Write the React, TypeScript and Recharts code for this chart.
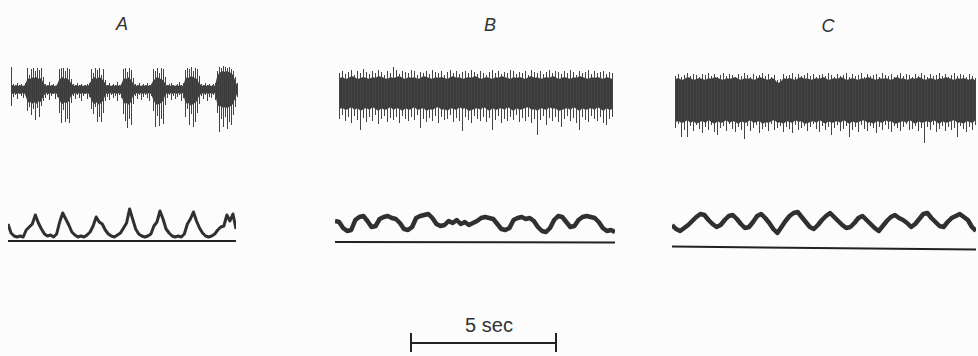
import React from "react";
import { ComposedChart, Bar, Area, Line, XAxis, YAxis, ReferenceLine } from "recharts";

// Panel A – raw nerve activity (px-like units above / below trace centre)
const aSpikeHi = [
  22,
  5, 4, 6, 4, 5, 3, 6,
  21, 14, 20, 21, 18, 21, 19, 21, 12,
  5, 4, 7, 4, 5, 3, 5,
  20, 21, 21, 18, 21, 20, 10,
  5, 4, 6, 4, 5, 3, 4, 5, 6,
  20, 16, 21, 19, 21, 14, 20, 9,
  4, 6, 3, 5, 4, 7, 4, 5,
  20, 21, 17, 21, 19, 11,
  5, 4, 6, 3, 5, 4, 6, 4, 5,
  20, 18, 21, 16, 21, 20, 12,
  4, 5, 6, 4, 3, 5, 7, 4, 6,
  19, 21, 20, 22, 18, 21, 20, 13,
  5, 4, 6, 4, 5, 3, 5, 6,
  18, 22, 21, 23, 22, 21, 22, 20, 18, 12,
  6,
];
const aSpikeLo = [
  -17,
  -8, -6, -10, -5, -7, -9, -6,
  -22, -18, -26, -20, -31, -19, -28, -17, -12,
  -9, -6, -11, -7, -5, -10, -8,
  -24, -34, -21, -33, -30, -34, -14,
  -7, -10, -6, -9, -12, -7, -5, -10, -8,
  -20, -25, -18, -33, -28, -33, -24, -12,
  -8, -11, -6, -9, -7, -12, -6, -9,
  -25, -32, -39, -30, -36, -15,
  -7, -10, -6, -11, -8, -6, -9, -12, -7,
  -22, -38, -27, -37, -30, -35, -16,
  -9, -6, -11, -7, -10, -8, -6, -12, -9,
  -28, -20, -36, -25, -38, -33, -24, -15,
  -7, -10, -6, -12, -8, -9, -6, -11,
  -24, -43, -30, -38, -28, -40, -33, -36, -26, -18,
  -8,
];
const aCoreHi = [
  3,
  4, 3, 4, 3, 4, 3, 4,
  9, 11, 10, 12, 11, 12, 10, 11, 7,
  4, 3, 4, 3, 4, 3, 4,
  9, 11, 12, 10, 11, 9, 6,
  4, 3, 4, 3, 4, 3, 4, 3, 4,
  8, 11, 12, 10, 12, 11, 9, 6,
  3, 4, 3, 4, 3, 4, 3, 4,
  9, 11, 10, 12, 9, 6,
  4, 3, 4, 3, 4, 3, 4, 3, 4,
  8, 10, 12, 11, 10, 9, 6,
  3, 4, 3, 4, 3, 4, 3, 4, 3,
  9, 12, 11, 13, 12, 11, 10, 6,
  4, 3, 4, 3, 4, 3, 4, 3,
  12, 16, 17, 18, 17, 18, 17, 16, 14, 9,
  4,
];
const aCoreLo = [
  -4,
  -5, -4, -5, -4, -5, -4, -5,
  -11, -14, -13, -15, -13, -15, -12, -13, -8,
  -5, -4, -5, -4, -5, -4, -5,
  -10, -14, -15, -13, -14, -12, -7,
  -5, -4, -5, -4, -5, -4, -5, -4, -5,
  -10, -14, -15, -13, -16, -14, -12, -7,
  -4, -5, -4, -5, -4, -5, -4, -5,
  -12, -15, -14, -16, -13, -7,
  -5, -4, -5, -4, -5, -4, -5, -4, -5,
  -10, -14, -16, -15, -14, -12, -7,
  -4, -5, -4, -5, -4, -5, -4, -5, -4,
  -12, -15, -14, -17, -15, -14, -12, -7,
  -5, -4, -5, -4, -5, -4, -5, -4,
  -14, -18, -17, -19, -18, -19, -18, -17, -15, -10,
  -5,
];
// Panel A – integrated activity, height above baseline
const aIntegrated = [
  17, 8, 5, 4, 5, 4, 11, 14, 17, 26,
  18, 12, 7, 5, 6, 4, 7, 19, 28, 22,
  16, 9, 6, 4, 5, 4, 6, 9, 15, 24,
  19, 17, 11, 7, 5, 4, 6, 8, 13, 18,
  32, 22, 12, 7, 5, 4, 5, 7, 15, 19,
  30, 22, 12, 8, 5, 4, 5, 4, 7, 17,
  22, 29, 20, 13, 8, 5, 4, 5, 7, 11,
  14, 15, 26, 20, 27, 12,
];

// Panel B
const bSpikeHi = [
  22, 24, 21, 23, 25, 20, 24, 22, 26, 23,
  21, 24, 22, 25, 23, 20, 24, 22, 28, 25,
  21, 24, 23, 22, 25, 24, 20, 23, 22, 24,
  21, 25, 23, 22, 24, 20, 23, 25, 22, 24,
  21, 23, 24, 22, 25, 23, 21, 24, 22, 20,
  23, 25, 22, 24, 21, 23, 22, 25, 24, 21,
  23, 22, 24, 20, 25, 23, 22, 24, 21, 23,
  25, 22, 24, 23, 21, 24, 22, 25, 23, 20,
  24, 22, 23, 25, 21, 24, 22, 23, 24, 21,
  23, 22,
];
const bSpikeLo = [
  -24, -20, -26, -22, -28, -21, -25, -35, -23, -27,
  -22, -26, -20, -29, -24, -21, -27, -23, -25, -22,
  -28, -21, -24, -26, -22, -25, -20, -33, -24, -27,
  -23, -26, -21, -28, -22, -25, -24, -20, -27, -23,
  -26, -36, -22, -25, -28, -21, -24, -26, -22, -27,
  -23, -35, -25, -21, -28, -24, -26, -22, -25, -20,
  -27, -23, -26, -22, -28, -24, -40, -25, -21, -30,
  -23, -26, -22, -27, -32, -24, -21, -26, -23, -28,
  -35, -22, -25, -27, -21, -24, -26, -22, -28, -30,
  -24, -22,
];
const bCoreHi = [
  17, 18, 16, 17, 19, 18, 16, 17, 18, 17,
  16, 18, 17, 19, 18, 17, 16, 18, 17, 18,
  19, 17, 16, 18, 17, 18, 16, 17, 19, 18,
  17, 16, 18, 17, 18, 17, 16, 18, 19, 17,
  18, 16, 17, 18, 17, 19, 18, 16, 17, 18,
  17, 16, 18, 17, 19, 18, 17, 16, 18, 17,
  18, 17, 16, 18, 19, 17, 18, 16, 17, 18,
  17, 19, 18, 16, 17, 18, 17, 16, 18, 17,
  19, 18, 17, 16, 18, 17, 18, 17, 16, 18,
  17, 16,
];
const bCoreLo = [
  -14, -13, -15, -14, -12, -15, -13, -16, -14, -13,
  -15, -12, -14, -16, -13, -15, -14, -12, -15, -13,
  -14, -16, -13, -15, -14, -12, -15, -14, -13, -16,
  -14, -15, -13, -12, -15, -14, -16, -13, -14, -15,
  -12, -14, -13, -16, -15, -14, -13, -15, -12, -14,
  -16, -13, -15, -14, -13, -15, -12, -14, -16, -13,
  -15, -14, -13, -12, -15, -14, -16, -13, -14, -15,
  -12, -14, -13, -16, -15, -14, -13, -15, -12, -14,
  -16, -13, -15, -14, -13, -15, -12, -14, -16, -13,
  -15, -14,
];
const bIntegrated = [
  21, 20, 14, 11, 12, 22, 25, 26, 21, 15,
  16, 23, 25, 26, 24, 23, 19, 13, 12, 15,
  24, 26, 27, 28, 24, 18, 16, 17, 21, 19,
  22, 18, 20, 17, 19, 21, 24, 25, 24, 23,
  18, 13, 12, 14, 22, 24, 25, 23, 24, 21,
  15, 11, 10, 14, 22, 26, 25, 20, 15, 16,
  22, 25, 26, 25, 24, 20, 14, 11, 12, 10,
];

// Panel C
const cSpikeHi = [
  24, 26, 23, 25, 27, 24, 26, 25, 23, 26,
  25, 27, 24, 26, 23, 25, 27, 24, 26, 25,
  23, 26, 24, 27, 25, 23, 26, 24, 25, 27,
  24, 26, 23, 25, 20, 21, 26, 24, 25, 27,
  23, 26, 24, 25, 27, 24, 26, 23, 25, 26,
  24, 27, 25, 23, 26, 24, 25, 27, 23, 26,
  24, 25, 27, 23, 26, 24, 25, 26, 23, 27,
  25, 24, 26, 23, 25, 27, 24, 26, 25, 23,
  26, 24, 27, 25, 23, 26, 24, 25, 27, 24,
  26, 23, 25, 27, 24, 26, 25, 23, 26, 24,
  22,
];
const cSpikeLo = [
  -28, -24, -37, -30, -37, -26, -31, -25, -29, -33,
  -27, -30, -25, -32, -35, -28, -26, -31, -24, -29,
  -32, -27, -30, -39, -26, -31, -28, -25, -33, -29,
  -27, -31, -24, -30, -28, -26, -32, -27, -29, -33,
  -25, -30, -28, -26, -31, -27, -24, -29, -32, -26,
  -30, -27, -35, -28, -25, -31, -29, -26, -37, -30,
  -27, -32, -25, -29, -31, -26, -28, -33, -27, -30,
  -25, -29, -32, -26, -28, -31, -27, -24, -30, -29,
  -26, -31, -28, -43, -27, -30, -25, -32, -29, -26,
  -31, -27, -30, -28, -37, -26, -29, -32, -27, -30,
  -25,
];
const cCoreHi = [
  21, 22, 20, 21, 23, 22, 20, 21, 22, 21,
  20, 22, 21, 23, 22, 21, 20, 22, 21, 22,
  23, 21, 20, 22, 21, 22, 20, 21, 23, 22,
  21, 20, 22, 21, 17, 18, 22, 21, 22, 21,
  20, 22, 23, 21, 22, 20, 21, 22, 21, 23,
  22, 20, 21, 22, 21, 23, 22, 20, 21, 22,
  21, 20, 22, 21, 23, 22, 21, 20, 22, 21,
  22, 21, 20, 22, 23, 21, 22, 20, 21, 22,
  21, 23, 22, 20, 21, 22, 21, 20, 22, 21,
  23, 22, 21, 20, 22, 21, 22, 21, 20, 22,
  19,
];
const cCoreLo = [
  -22, -21, -23, -22, -20, -23, -21, -24, -22, -21,
  -23, -20, -22, -24, -21, -23, -22, -20, -23, -21,
  -22, -24, -21, -23, -22, -20, -23, -22, -21, -24,
  -22, -23, -21, -20, -23, -22, -24, -21, -22, -23,
  -20, -22, -21, -24, -23, -22, -21, -23, -20, -22,
  -24, -21, -23, -22, -21, -23, -20, -22, -24, -21,
  -23, -22, -21, -20, -23, -22, -24, -21, -22, -23,
  -20, -22, -21, -24, -23, -22, -21, -23, -20, -22,
  -24, -21, -23, -22, -21, -23, -20, -22, -24, -21,
  -23, -22, -21, -20, -23, -22, -24, -21, -22, -23,
  -20,
];
const cIntegrated = [
  22, 18, 16, 19, 22, 26, 30, 33, 32, 27,
  23, 20, 22, 27, 31, 32, 28, 23, 19, 20,
  25, 31, 33, 29, 24, 18, 14, 20, 26, 31,
  34, 35, 30, 25, 20, 18, 22, 27, 31, 34,
  30, 26, 22, 19, 20, 24, 29, 31, 27, 23,
  19, 16, 21, 26, 30, 32, 29, 27, 24, 20,
  23, 28, 33, 34, 29, 25, 21, 20, 25, 29,
  31, 33, 30, 27, 20, 16,
];

const panelLabels = ["A", "B", "C"];

// scale bar: 5 s, end ticks reach this far above / below the bar
const scaleSeconds = 5;
const scaleTickUp = 10;
const scaleTickDown = -9;

const INK = "#303030";
const SPIKE = "#444";

function RawTrace({ left, top, width, height, domain, hi, lo, coreHi, coreLo }) {
  const data = hi.map((h, i) => ({ i, spike: [lo[i], h], core: [coreLo[i], coreHi[i]] }));
  return (
    <div style={{ position: "absolute", left, top }}>
      <ComposedChart width={width} height={height} data={data} margin={{ top: 0, right: 0, bottom: 0, left: 0 }}>
        <XAxis dataKey="i" hide />
        <YAxis hide domain={domain} allowDataOverflow />
        <Area dataKey="core" type="linear" stroke="none" fill={INK} fillOpacity={0.95} isAnimationActive={false} />
        <Bar dataKey="spike" barSize={1} fill={SPIKE} isAnimationActive={false} />
      </ComposedChart>
    </div>
  );
}

function IntegratedTrace({ left, top, width, height, domain, values, base, strokeWidth }) {
  const data = values.map((v, i) => ({ i, v }));
  return (
    <div style={{ position: "absolute", left, top }}>
      <ComposedChart width={width} height={height} data={data} margin={{ top: 0, right: 0, bottom: 0, left: 0 }}>
        <XAxis dataKey="i" hide />
        <YAxis hide domain={domain} allowDataOverflow />
        <ReferenceLine
          segment={[{ x: 0, y: base[0] }, { x: values.length - 1, y: base[1] }]}
          stroke="#222"
          strokeWidth={2}
          ifOverflow="visible"
        />
        <Line dataKey="v" type="linear" dot={false} stroke={INK} strokeWidth={strokeWidth} strokeLinejoin="round" isAnimationActive={false} />
      </ComposedChart>
    </div>
  );
}

function ScaleBar() {
  const bar = [{ t: 0, v: 0 }, { t: scaleSeconds, v: 0 }];
  const leftTick = [{ t: 0, v: scaleTickUp }, { t: 0, v: scaleTickDown }];
  const rightTick = [{ t: scaleSeconds, v: scaleTickUp }, { t: scaleSeconds, v: scaleTickDown }];
  return (
    <div style={{ position: "absolute", left: 406, top: 332 }}>
      <ComposedChart width={155} height={21} margin={{ top: 0, right: 5, bottom: 0, left: 5 }}>
        <XAxis dataKey="t" type="number" domain={[0, scaleSeconds]} hide allowDuplicatedCategory={false} />
        <YAxis hide domain={[-10, 11]} allowDataOverflow />
        <Line data={bar} dataKey="v" dot={false} stroke="#222" strokeWidth={2} isAnimationActive={false} />
        <Line data={leftTick} dataKey="v" dot={false} stroke="#222" strokeWidth={2} isAnimationActive={false} />
        <Line data={rightTick} dataKey="v" dot={false} stroke="#222" strokeWidth={2} isAnimationActive={false} />
      </ComposedChart>
    </div>
  );
}

const labelPos = [
  { x: 122, y: 15 },
  { x: 490, y: 16 },
  { x: 828, y: 17 },
];

export default function App() {
  return (
    <div
      style={{
        position: "absolute",
        left: 0,
        top: 0,
        width: 978,
        height: 356,
        background: "#fcfcfc",
        overflow: "hidden",
        fontFamily: '"Liberation Sans", Arial, sans-serif',
        color: "#333",
      }}
    >
      {panelLabels.map((l, k) => (
        <div
          key={l}
          style={{
            position: "absolute",
            left: labelPos[k].x,
            top: labelPos[k].y,
            transform: "translateX(-50%)",
            fontSize: 18,
            lineHeight: "18px",
            fontStyle: "italic",
          }}
        >
          {l}
        </div>
      ))}

      <RawTrace left={10} top={60} width={228} height={80} domain={[-51, 29]} hi={aSpikeHi} lo={aSpikeLo} coreHi={aCoreHi} coreLo={aCoreLo} />
      <RawTrace left={337.5} top={60} width={276} height={85} domain={[-50, 35]} hi={bSpikeHi} lo={bSpikeLo} coreHi={bCoreHi} coreLo={bCoreLo} />
      <RawTrace left={673.5} top={65} width={303} height={85} domain={[-50, 35]} hi={cSpikeHi} lo={cSpikeLo} coreHi={cCoreHi} coreLo={cCoreLo} />

      <IntegratedTrace left={8} top={201} width={228} height={44} domain={[-4, 40]} values={aIntegrated} base={[0, 0]} strokeWidth={3} />
      <IntegratedTrace left={335} top={200} width={280} height={46} domain={[-4, 42]} values={bIntegrated} base={[0, -0.5]} strokeWidth={4.5} />
      <IntegratedTrace left={672} top={195} width={304} height={60} domain={[-8, 52]} values={cIntegrated} base={[0.5, -2.5]} strokeWidth={4.5} />

      <ScaleBar />
      <div
        style={{
          position: "absolute",
          left: 489,
          top: 315,
          transform: "translateX(-50%)",
          fontSize: 20,
          lineHeight: "20px",
          whiteSpace: "nowrap",
        }}
      >
        5 sec
      </div>
    </div>
  );
}
